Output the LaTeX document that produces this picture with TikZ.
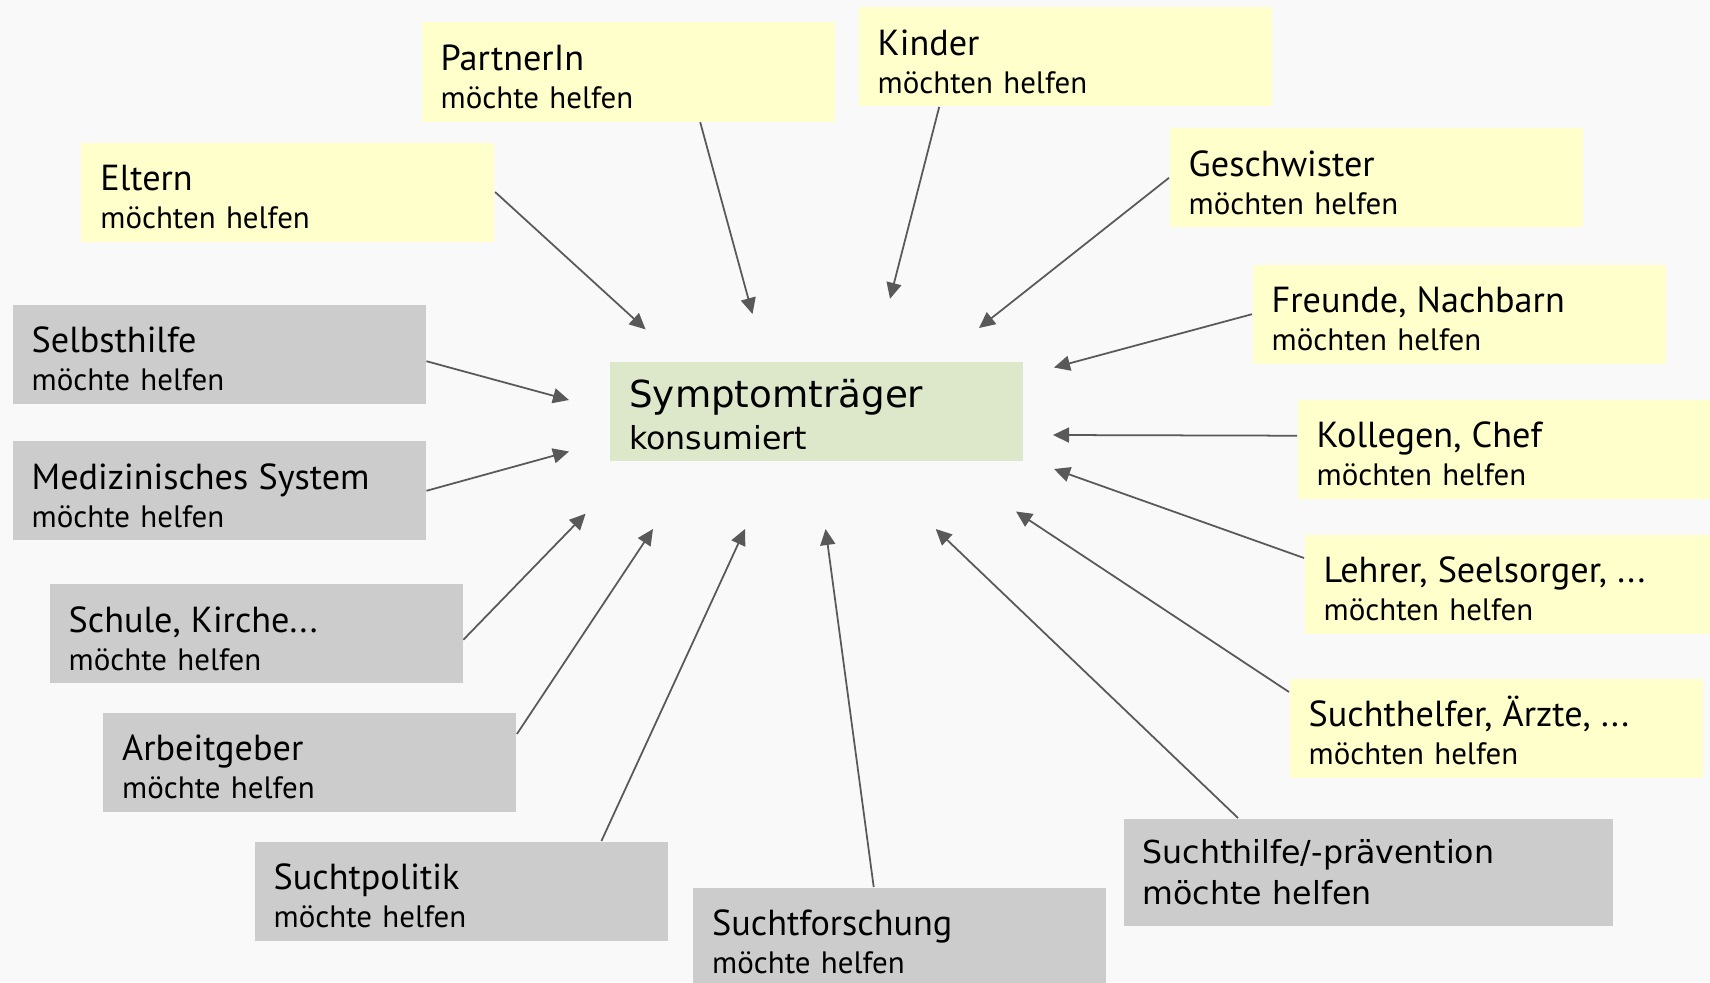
\documentclass[tikz,border=0pt]{standalone}
\usepackage{fontspec}
\setmainfont{PT Sans}
\newfontfamily\dejavu{DejaVu Sans}
\usetikzlibrary{arrows.meta}

\definecolor{bgcol}{HTML}{F9F9F9}
\definecolor{famcol}{HTML}{FFFFCC}
\definecolor{inscol}{HTML}{CCCCCC}
\definecolor{mecol}{HTML}{DDE8CB}
\definecolor{arrcol}{HTML}{595959}

% two lines: who, and what they do
\newcommand{\who}[2]{\rule{0pt}{10pt}{\fontsize{10.3}{10.8}\selectfont #1}\\#2}

\begin{document}
\begin{tikzpicture}[x=1mm,y=-1mm,
		box/.style={anchor=north west,minimum width=41.3mm,minimum height=9.9mm,
			text width=37.5mm,inner xsep=1.9mm,inner ysep=0pt,align=left,
			font=\fontsize{8.8}{10.8}\selectfont},
		family/.style={box,fill=famcol},
		helper/.style={box,fill=inscol},
		arr/.style={draw=arrcol,line width=0.5pt,-{Triangle[length=1.6mm,width=1.5mm]}}]
		\useasboundingbox[fill=bgcol] (0,0) rectangle (171,98.2);
		% family, friends
		\node[family] (eltern) at (8.07,14.18) {\who{Eltern}{möchten helfen}};
		\node[family] (partner) at (42.1,2.18) {\who{PartnerIn}{möchte helfen}};
		\node[family] (kinder) at (85.8,0.65) {\who{Kinder}{möchten helfen}};
		\node[family] (geschwister) at (116.9,12.76) {\who{Geschwister}{möchten helfen}};
		\node[family] (freunde) at (125.2,26.4) {\who{Freunde, Nachbarn}{möchten helfen}};
		\node[family] (kollegen) at (129.7,39.9) {\who{Kollegen, Chef}{möchten helfen}};
		\node[family] (lehrer) at (130.4,53.4) {\who{Lehrer, Seelsorger, ...}{möchten helfen}};
		\node[family] (suchthelfer) at (128.9,67.8) {\who{Suchthelfer, Ärzte, ...}{möchten helfen}};
		% institutions
		\node[helper,minimum width=48.9mm,text width=45.1mm,minimum height=10.7mm,
			font=\dejavu\fontsize{9}{11.4}\selectfont] (suchthilfe) at (112.3,81.8)
			{Suchthilfe/-prävention\\möchte helfen};
		\node[helper] (forschung) at (69.25,88.7) {\who{Suchtforschung}{möchte helfen}};
		\node[helper] (politik) at (25.4,84.1) {\who{Suchtpolitik}{möchte helfen}};
		\node[helper] (arbeitgeber) at (10.25,71.2) {\who{Arbeitgeber}{möchte helfen}};
		\node[helper] (schule) at (4.9,58.35) {\who{Schule, Kirche...}{möchte helfen}};
		\node[helper] (medizin) at (1.2,44.06) {\who{Medizinisches System}{möchte helfen}};
		\node[helper] (selbsthilfe) at (1.2,30.4) {\who{Selbsthilfe}{möchte helfen}};
		% the one in the middle
		\node[box,fill=mecol,font=\dejavu\fontsize{9}{11.7}\selectfont] (symptom) at (60.96,36.1)
			{\rule{0pt}{10pt}{\fontsize{10.6}{11.7}\selectfont Symptomträger}\\konsumiert};
		% arrow tips stop short of the box
		\coordinate (tEltern) at (64.56,32.94);
		\coordinate (tPartner) at (75.25,31.4);
		\coordinate (tKinder) at (89.0,29.88);
		\coordinate (tGeschwister) at (97.9,32.8);
		\coordinate (tFreunde) at (105.4,36.75);
		\coordinate (tKollegen) at (105.3,43.5);
		\coordinate (tLehrer) at (105.4,46.9);
		\coordinate (tSuchthelfer) at (101.6,51.15);
		\coordinate (tSuchthilfe) at (93.57,52.9);
		\coordinate (tForschung) at (82.56,52.9);
		\coordinate (tPolitik) at (74.5,52.9);
		\coordinate (tArbeitgeber) at (65.3,52.9);
		\coordinate (tSchule) at (58.56,51.37);
		\coordinate (tMedizin) at (56.9,45.15);
		\coordinate (tSelbsthilfe) at (56.9,40.0);
		\draw[arr] (eltern.east) -- (tEltern);
		\draw[arr] ([xshift=7.2mm]partner.south) -- (tPartner);
		\draw[arr] ([xshift=-12.6mm]kinder.south) -- (tKinder);
		\draw[arr] (geschwister.west) -- (tGeschwister);
		\draw[arr] (freunde.west) -- (tFreunde);
		\draw[arr] ([yshift=1.35mm]kollegen.west) -- (tKollegen);
		\draw[arr] ([yshift=-2.4mm]lehrer.north west) -- (tLehrer);
		\draw[arr] ([yshift=-1.4mm]suchthelfer.north west) -- (tSuchthelfer);
		\draw[arr] ([xshift=11.5mm]suchthilfe.north west) -- (tSuchthilfe);
		\draw[arr] ([xshift=-2.6mm]forschung.north) -- (tForschung);
		\draw[arr] ([xshift=-6.7mm]politik.north east) -- (tPolitik);
		\draw[arr] ([yshift=-2.2mm]arbeitgeber.north east) -- (tArbeitgeber);
		\draw[arr] ([yshift=-0.6mm]schule.east) -- (tSchule);
		\draw[arr] (medizin.east) -- (tMedizin);
		\draw[arr] ([yshift=-0.7mm]selbsthilfe.east) -- (tSelbsthilfe);
\end{tikzpicture}
\end{document}
